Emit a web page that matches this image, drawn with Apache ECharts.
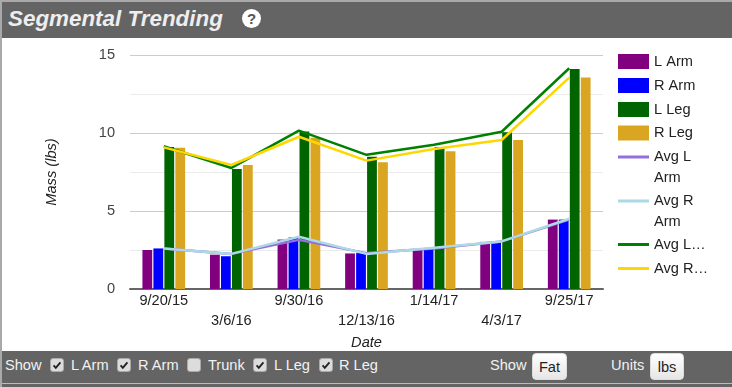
<!DOCTYPE html>
<html>
<head>
<meta charset="utf-8">
<script src="https://cdn.jsdelivr.net/npm/echarts@6/dist/echarts.min.js"></script>
<style>
html, body { margin: 0; padding: 0; background: #fff; }
body { width: 732px; height: 387px; position: relative; overflow: hidden; font-family: "Liberation Sans", Arial, sans-serif; }
#main { position: absolute; left: 0; top: 0; width: 732px; height: 387px; }
.frame { position: absolute; background: #a9a9a9; }
.bar { position: absolute; left: 2px; right: 0; background: #646464; color: #f2f2f2; }
#head { top: 2px; height: 36px; }
#head .title { position: absolute; left: 6px; top: 4px; font-size: 22.4px; font-weight: bold; font-style: italic; color: #eee; white-space: nowrap; }
#head .help { position: absolute; left: 240px; top: 7px; width: 19px; height: 19px; border-radius: 50%; background: #fff; color: #555; font-size: 15px; font-weight: bold; line-height: 19px; text-align: center; }
#foot { top: 351px; height: 32px; }
#rule { position: absolute; left: 2px; right: 0; top: 383px; height: 1px; background: #bbb; }
#under { position: absolute; left: 2px; right: 0; top: 384px; height: 3px; background: #646464; }
#foot span { position: absolute; top: 6px; font-size: 14.6px; white-space: nowrap; }
#foot input { position: absolute; top: 7px; width: 14px; height: 14px; margin: 0; appearance: none; background: #dcdcdc; border: 1px solid #aaa; border-radius: 3px; box-sizing: border-box; }
#foot input:checked { background: #dcdcdc url("data:image/svg+xml,%3Csvg xmlns='http://www.w3.org/2000/svg' viewBox='0 0 14 14'%3E%3Cpath d='M3 7.5l2.6 2.8L11 4' fill='none' stroke='%23222' stroke-width='2.2'/%3E%3C/svg%3E") center no-repeat; }
#foot button { position: absolute; top: 2px; height: 27px; padding: 0; font: 14.6px "Liberation Sans", Arial, sans-serif; color: #222; background: linear-gradient(#fff, #e6e6e6); border: 1px solid #ddd; border-radius: 4px; }
</style>
</head>
<body>
<div id="main"></div>
<div class="frame" style="left:0;top:0;width:732px;height:2px"></div>
<div class="frame" style="left:0;top:0;width:2px;height:387px"></div>
<div class="bar" id="head">
  <div class="title">Segmental Trending</div>
  <div class="help">?</div>
</div>
<div class="bar" id="foot">
  <span style="left:3px">Show</span>
  <input type="checkbox" checked style="left:48px"><span style="left:69px">L Arm</span>
  <input type="checkbox" checked style="left:115px"><span style="left:136px">R Arm</span>
  <input type="checkbox" style="left:185px"><span style="left:206px">Trunk</span>
  <input type="checkbox" checked style="left:251px"><span style="left:272px">L Leg</span>
  <input type="checkbox" checked style="left:317px"><span style="left:337px">R Leg</span>
  <span style="left:488px">Show</span>
  <button style="left:530px;width:35px">Fat</button>
  <span style="left:609px">Units</span>
  <button style="left:648px;width:34px">lbs</button>
</div>
<div id="rule"></div>
<div id="under"></div>
<script>
var dates = ['9/20/15', '3/6/16', '9/30/16', '12/13/16', '1/14/17', '4/3/17', '9/25/17'];
var lArm = [2.5, 2.2, 3.17, 2.28, 2.5, 3.02, 4.45];
var rArm = [2.6, 2.1, 3.3, 2.3, 2.55, 3.05, 4.45];
var lLeg = [9.1, 7.7, 10.1, 8.48, 9.1, 10.05, 14.1];
var rLeg = [9.05, 7.95, 9.7, 8.12, 8.83, 9.55, 13.55];
var avgLArm = [2.6, 2.25, 3.15, 2.3, 2.6, 3.05, 4.45];
var avgRArm = [2.6, 2.25, 3.35, 2.25, 2.65, 3.05, 4.5];
var avgLLeg = [9.15, 7.76, 10.15, 8.6, 9.25, 10.08, 14.15];
var avgRLeg = [9.08, 7.95, 9.76, 8.23, 8.97, 9.55, 13.55];

var barNames = ['L Arm', 'R Arm', 'L Leg', 'R Leg'];
var barValues = [lArm, rArm, lLeg, rLeg];
var barColors = ['#800080', '#0000ff', '#006400', '#daa520'];
var lineNames = ['Avg L Arm', 'Avg R Arm', 'Avg L Leg', 'Avg R Leg'];
var lineValues = [avgLArm, avgRArm, avgLLeg, avgRLeg];
var lineColors = ['#9370db', '#add8e6', '#008000', '#ffd700'];

// leading blank line keeps the first text line level with the swatch
var legendText = {
    'Avg L Arm': '\nAvg L\nArm',
    'Avg R Arm': '\nAvg R\nArm',
    'Avg L Leg': 'Avg L…',
    'Avg R Leg': 'Avg R…'
};
// legend box tops: one line of text is 21px tall, wrapped ones 63px
var legendTops = [51, 75, 99, 122.5, 125.5, 169.5, 234, 258];

var chartDom = document.getElementById('main');
var myChart = echarts.init(chartDom);
var option;

var series = [];
barNames.forEach(function (name, i) {
    series.push({
        name: name,
        type: 'bar',
        barWidth: 9.8,
        barGap: '12%',
        itemStyle: { color: barColors[i] },
        data: barValues[i]
    });
});
lineNames.forEach(function (name, i) {
    series.push({
        name: name,
        type: 'line',
        symbol: 'none',
        lineStyle: { color: lineColors[i], width: 2.5 },
        itemStyle: { color: lineColors[i] },
        data: lineValues[i]
    });
});

var legends = barNames.concat(lineNames).map(function (name, i) {
    return {
        orient: 'vertical',
        left: 618,
        top: legendTops[i],
        padding: 0,
        itemWidth: 31,
        itemHeight: i < 4 ? 15 : 3,
        itemGap: 0,
        icon: 'rect',
        selectedMode: false,
        data: [name],
        formatter: function (n) { return legendText[n] || n; },
        textStyle: { fontFamily: 'Liberation Sans', fontSize: 14.6, color: '#222', lineHeight: 21 }
    };
});

option = {
    animation: false,
    textStyle: { fontFamily: 'Liberation Sans' },
    legend: legends,
    grid: { left: 130, top: 55, width: 473, height: 234 },
    xAxis: {
        type: 'category',
        data: dates,
        name: 'Date',
        nameLocation: 'middle',
        nameGap: 40,
        nameTextStyle: { fontStyle: 'italic', fontSize: 14.6, color: '#222' },
        axisLine: { lineStyle: { color: '#666', width: 2 } },
        axisTick: { show: false },
        axisLabel: {
            interval: 0,
            margin: 2,
            fontSize: 14.6,
            lineHeight: 20,
            color: '#222',
            formatter: function (v, i) { return i % 2 ? '\n' + v : v; }
        }
    },
    yAxis: {
        type: 'value',
        min: 0,
        max: 15,
        interval: 5,
        name: 'Mass (lbs)',
        nameLocation: 'middle',
        nameGap: 71,
        nameTextStyle: { fontStyle: 'italic', fontSize: 14.6, color: '#222' },
        axisLine: { show: false },
        axisTick: { show: false },
        axisLabel: { margin: 15, fontSize: 14.6, color: '#444' },
        splitLine: { lineStyle: { color: '#ccc', width: 1 } },
        minorTick: { show: false, splitNumber: 2 },
        minorSplitLine: { show: true, lineStyle: { color: '#ebebeb', width: 1 } }
    },
    series: series
};

option && myChart.setOption(option);
</script>
</body>
</html>
